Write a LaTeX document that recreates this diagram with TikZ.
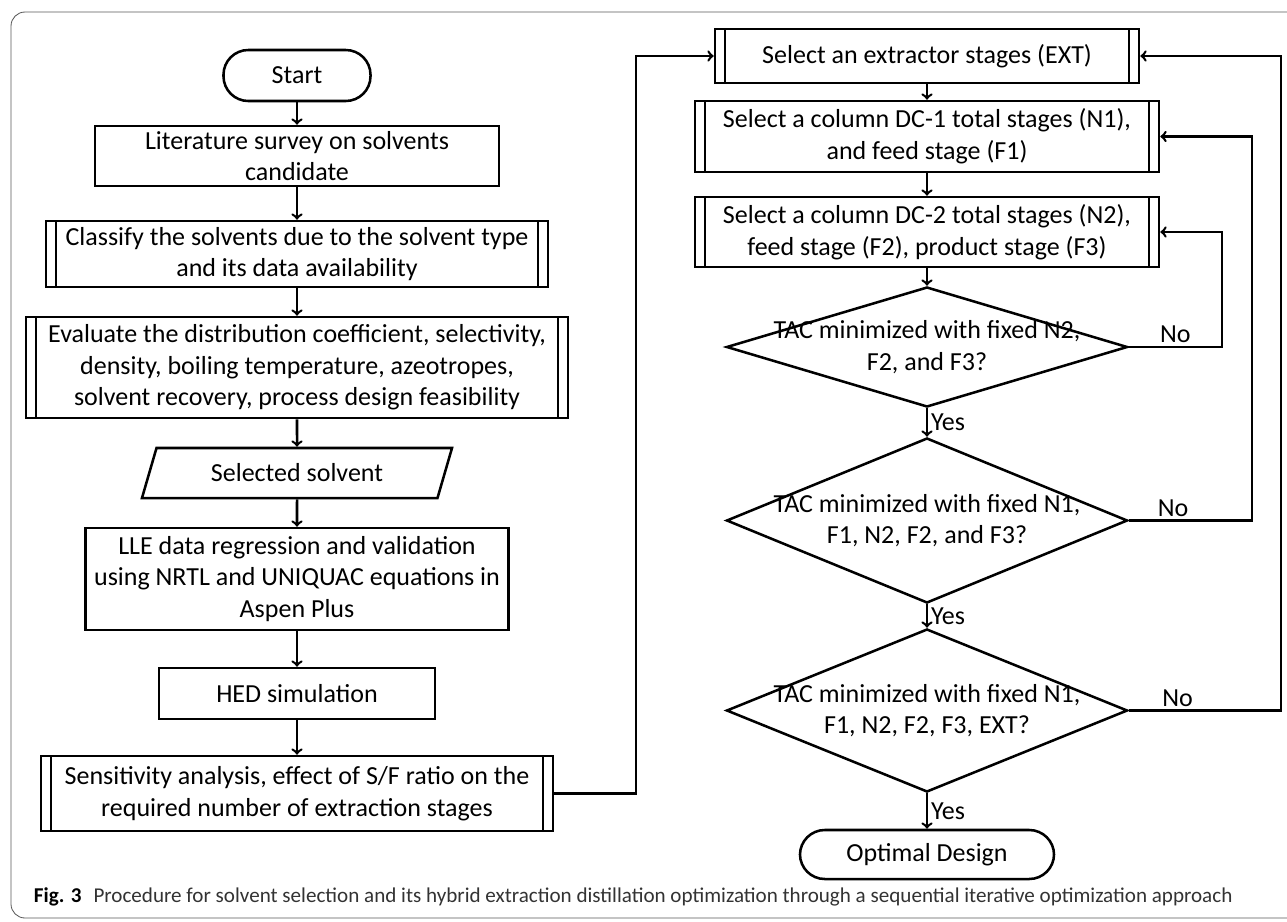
\documentclass[tikz,border=0pt]{standalone}
\usepackage{fontspec}
\setmainfont{Carlito}
\usetikzlibrary{shapes.geometric}

\begin{document}
\begin{tikzpicture}[x=0.025cm,y=-0.025cm,line width=1.8pt,
	every node/.style={font=\fontsize{18.5}{22.5}\selectfont},
	box/.style={draw,rectangle,align=center,inner sep=0pt},
	subproc/.style={box,path picture={
		\draw ([xshift=0.25cm]path picture bounding box.north west) -- ([xshift=0.25cm]path picture bounding box.south west);
		\draw ([xshift=-0.25cm]path picture bounding box.north east) -- ([xshift=-0.25cm]path picture bounding box.south east);}},
	term/.style={box,rounded corners=0.62cm},
	datain/.style={draw,trapezium,trapezium left angle=64,trapezium right angle=116,trapezium stretches=true,inner sep=0pt},
	decide/.style={draw,diamond,inner sep=0pt},
	ans/.style={inner sep=2pt}]
	\useasboundingbox (0,0) rectangle (1287,921);
	\begin{scope}
		\clip (0,0) rectangle (1287,921);
		\draw[line width=0.6pt,black!65,rounded corners=0.35cm] (11,12) rectangle (1330,918);
	\end{scope}

	% left column
	\node[term,minimum width=3.675cm,minimum height=1.275cm] (start) at (297,75.5) {Start};
	\node[box,minimum width=10.1cm,minimum height=1.5cm] (lit) at (297,156) {Literature survey on solvents\\candidate};
	\node[subproc,minimum width=12.55cm,minimum height=1.65cm] (cls) at (297,254) {Classify the solvents due to the solvent type\\and its data availability};
	\node[subproc,minimum width=13.55cm,minimum height=2.525cm] (eva) at (297,367.5) {Evaluate the distribution coefficient, selectivity,\\density, boiling temperature, azeotropes,\\solvent recovery, process design feasibility};
	\node[datain,minimum width=7.75cm,minimum height=1.25cm] (sel) at (297,473) {Selected solvent};
	\node[box,minimum width=10.575cm,minimum height=2.55cm] (lle) at (297,579) {LLE data regression and validation\\using NRTL and UNIQUAC equations in\\Aspen Plus};
	\node[box,minimum width=6.9cm,minimum height=1.275cm] (hed) at (297,693.5) {HED simulation};
	\node[subproc,minimum width=12.8cm,minimum height=1.875cm] (sens) at (297,793.5) {Sensitivity analysis, effect of S/F ratio on the\\required number of extraction stages};

	% right column
	\node[subproc,minimum width=10.6cm,minimum height=1.35cm] (ext) at (927,56) {Select an extractor stages (EXT)};
	\node[subproc,minimum width=11.6cm,minimum height=1.775cm] (dc1) at (927,136.5) {Select a column DC-1 total stages (N1),\\and feed stage (F1)};
	\node[subproc,minimum width=11.6cm,minimum height=1.75cm] (dc2) at (927,232) {Select a column DC-2 total stages (N2),\\feed stage (F2), product stage (F3)};
	\node[decide,minimum width=10.025cm,minimum height=3cm,label={[align=center]center:TAC minimized with fixed N2,\\F2, and F3?}] (d1) at (927,347) {};
	\node[decide,minimum width=10.025cm,minimum height=4.125cm,label={[align=center]center:TAC minimized with fixed N1,\\F1, N2, F2, and F3?}] (d2) at (927,520.5) {};
	\node[decide,minimum width=10.025cm,minimum height=4.075cm,label={[align=center]center:TAC minimized with fixed N1,\\F1, N2, F2, F3, EXT?}] (d3) at (927,710.5) {};
	\node[term,minimum width=6.35cm,minimum height=1.225cm] (opt) at (927,854.5) {Optimal Design};

	\coordinate (up) at (636,0);
	\coordinate (r1) at (1222,0);
	\coordinate (r2) at (1252,0);
	\coordinate (r3) at (1281,0);

	\draw[->] (start) -- (lit);
	\draw[->] (lit) -- (cls);
	\draw[->] (cls) -- (eva);
	\draw[->] (eva) -- (sel);
	\draw[->] (sel) -- (lle);
	\draw[->] (lle) -- (hed);
	\draw[->] (hed) -- (sens);
	\draw[->] (sens.east) -- (sens.east -| up) |- (ext.west);
	\draw[->] (ext) -- (dc1);
	\draw[->] (dc1) -- (dc2);
	\draw[->] (dc2) -- (d1);
	\draw[->] (d1) -- node[ans,right] {Yes} (d2);
	\draw[->] (d2) -- node[ans,right] {Yes} (d3);
	\draw[->] (d3) -- node[ans,right] {Yes} (opt);
	\draw[->] (d1.east) -- node[ans,above,pos=0.5] {No} (d1.east -| r1) |- (dc2.east);
	\draw[->] (d2.east) -- node[ans,above,pos=0.36] {No} (d2.east -| r2) |- (dc1.east);
	\draw[->] (d3.east) -- node[ans,above,pos=0.32] {No} (d3.east -| r3) |- (ext.east);

	\node[anchor=base west,font=\fontsize{15}{18}\selectfont,text=black!80] (cap) at (28,902) {\textbf{\color{black}Fig. 3}\hspace{0.3cm}Procedure for solvent selection and its hybrid extraction distillation optimization through a sequential iterative optimization approach};
\end{tikzpicture}
\end{document}
